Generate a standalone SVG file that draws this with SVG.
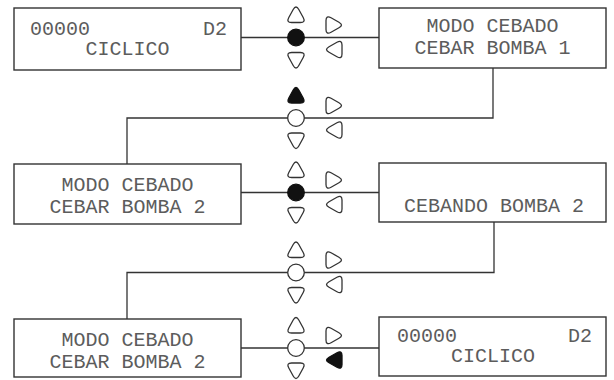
<svg xmlns="http://www.w3.org/2000/svg" width="614" height="380" viewBox="0 0 614 380">
<style>
.box{fill:#fff;stroke:#333;stroke-width:1.4}
.ln{fill:none;stroke:#333;stroke-width:1.3}
.t{font-family:"Liberation Mono","Courier New",monospace;font-size:20px;fill:#5c5c5c}
.c{text-anchor:middle}
.e{text-anchor:end}
.tri{fill:#fff;stroke:#333;stroke-width:1.3}
.triF{fill:#111;stroke:#111;stroke-width:1.3}
.dot{fill:#fff;stroke:#333;stroke-width:1.3}
.dotF{fill:#111;stroke:#111;stroke-width:1.3}
</style>
<defs>
<path id="tr" d="M2.8,-4.96 L7.2,2.96 Q10,8 4.4,8 L-4.4,8 Q-10,8 -7.2,2.96 L-2.8,-4.96 Q0,-10 2.8,-4.96 Z"/>
</defs>
<rect width="614" height="380" fill="#fff"/>
<g id="connectors">
<line class="ln" x1="241" y1="37.5" x2="379" y2="37.5"/>
<polyline class="ln" points="493,68 493,118 127,118 127,164"/>
<line class="ln" x1="241" y1="192.5" x2="379" y2="192.5"/>
<polyline class="ln" points="494,222 494,272.5 127,272.5 127,319"/>
<line class="ln" x1="241" y1="348" x2="379" y2="348"/>
</g>
<g id="keypad1">
<use href="#tr" class="tri" transform="translate(296,14.5)"/>
<circle class="dotF" cx="296" cy="37.5" r="8.3"/>
<use href="#tr" class="tri" transform="translate(296,60.5) rotate(180)"/>
<use href="#tr" class="tri" transform="translate(334,25) rotate(90)"/>
<use href="#tr" class="tri" transform="translate(334,49.5) rotate(-90)"/>
</g>
<g id="keypad2">
<use href="#tr" class="triF" transform="translate(296,95)"/>
<circle class="dot" cx="296" cy="118" r="8.3"/>
<use href="#tr" class="tri" transform="translate(296,141) rotate(180)"/>
<use href="#tr" class="tri" transform="translate(334,105.5) rotate(90)"/>
<use href="#tr" class="tri" transform="translate(334,130) rotate(-90)"/>
</g>
<g id="keypad3">
<use href="#tr" class="tri" transform="translate(296,169.5)"/>
<circle class="dotF" cx="296" cy="192.5" r="8.3"/>
<use href="#tr" class="tri" transform="translate(296,215.5) rotate(180)"/>
<use href="#tr" class="tri" transform="translate(334,180) rotate(90)"/>
<use href="#tr" class="tri" transform="translate(334,204.5) rotate(-90)"/>
</g>
<g id="keypad4">
<use href="#tr" class="tri" transform="translate(296,249.5)"/>
<circle class="dot" cx="296" cy="272.5" r="8.3"/>
<use href="#tr" class="tri" transform="translate(296,295.5) rotate(180)"/>
<use href="#tr" class="tri" transform="translate(334,260) rotate(90)"/>
<use href="#tr" class="tri" transform="translate(334,284.5) rotate(-90)"/>
</g>
<g id="keypad5">
<use href="#tr" class="tri" transform="translate(296,325)"/>
<circle class="dot" cx="296" cy="348" r="8.3"/>
<use href="#tr" class="tri" transform="translate(296,371) rotate(180)"/>
<use href="#tr" class="tri" transform="translate(334,335.5) rotate(90)"/>
<use href="#tr" class="triF" transform="translate(334,360) rotate(-90)"/>
</g>
<g id="screen1">
<rect class="box" x="14" y="8" width="227" height="62"/>
<text class="t" x="30" y="35">00000</text>
<text class="t e" x="227" y="35">D2</text>
<text class="t c" x="127.5" y="55">CICLICO</text>
</g>
<g id="screen2">
<rect class="box" x="379" y="8" width="227" height="60"/>
<text class="t c" x="492.5" y="32">MODO CEBADO</text>
<text class="t c" x="492.5" y="54">CEBAR BOMBA 1</text>
</g>
<g id="screen3">
<rect class="box" x="14" y="164" width="227" height="60"/>
<text class="t c" x="127.5" y="191">MODO CEBADO</text>
<text class="t c" x="127.5" y="213">CEBAR BOMBA 2</text>
</g>
<g id="screen4">
<rect class="box" x="379" y="163" width="227" height="59"/>
<text class="t c" x="494" y="212">CEBANDO BOMBA 2</text>
</g>
<g id="screen5">
<rect class="box" x="14" y="319" width="227" height="58"/>
<text class="t c" x="127.5" y="346">MODO CEBADO</text>
<text class="t c" x="127.5" y="368">CEBAR BOMBA 2</text>
</g>
<g id="screen6">
<rect class="box" x="379" y="317" width="227" height="59"/>
<text class="t" x="397" y="342">00000</text>
<text class="t e" x="592" y="342">D2</text>
<text class="t c" x="493" y="362">CICLICO</text>
</g>
</svg>
